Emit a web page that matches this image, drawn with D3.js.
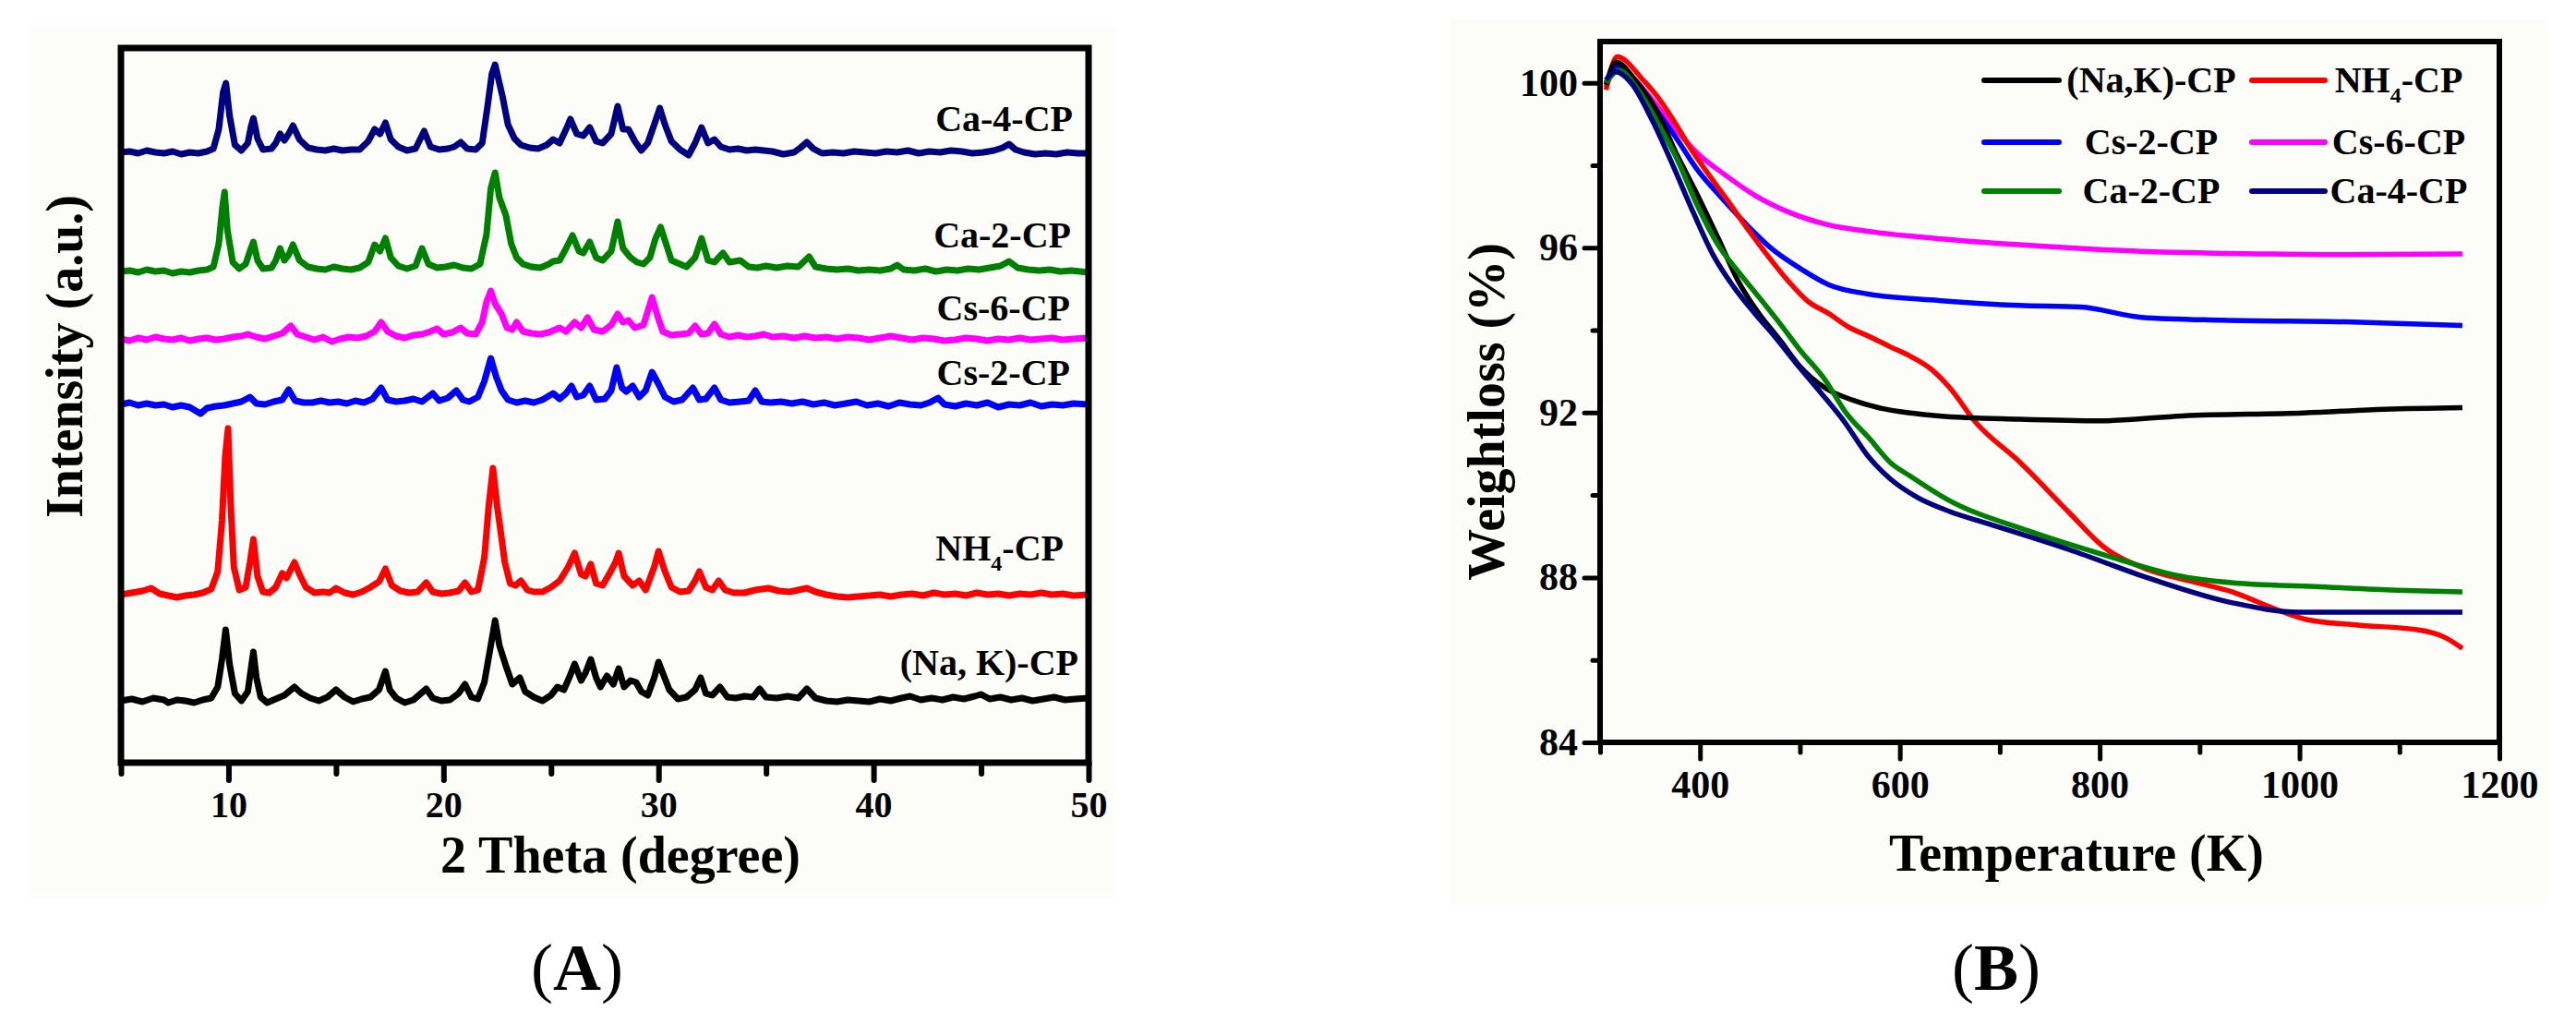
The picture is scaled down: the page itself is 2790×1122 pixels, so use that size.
<!DOCTYPE html>
<html>
<head>
<meta charset="utf-8">
<script src="https://cdn.jsdelivr.net/npm/d3@7"></script>
<style>
  body { margin: 0; background: #fff; }
  text { font-family: 'Liberation Serif', 'Times New Roman', serif; font-weight: bold; fill: #000; }
</style>
</head>
<body>
<svg id="chart"></svg>
<script>
// ---------- data: (A) XRD patterns, [2theta, intensity a.u. above own baseline] ----------
const xrdNames = ['(Na, K)-CP', 'NH4-CP', 'Cs-2-CP', 'Cs-6-CP', 'Ca-2-CP', 'Ca-4-CP']
const xrdOffsets = [67, 182, 388, 459, 532, 661]

const xrdNaK = [[5,0],[5.5,2],[6,-1],[6.5,3],[7,1],[7.2,-2],[7.6,1],[8,0],[8.4,-2],[8.8,1],[9.2,3],[9.5,15],[9.7,45],[9.87,77],[10.05,40],[10.3,8],[10.6,0],[10.9,10],[11.05,35],[11.16,53],[11.3,25],[11.5,4],[11.8,-2],[12.2,2],[12.6,6],[13.07,15],[13.4,8],[13.8,3],[14.2,0],[14.6,4],[15,12],[15.4,4],[15.8,-1],[16.2,2],[16.6,4],[17,12],[17.3,32],[17.5,12],[17.8,3],[18.2,-2],[18.6,1],[19.2,13],[19.5,3],[19.9,0],[20.3,1],[20.7,8],[21,18],[21.3,4],[21.6,2],[21.9,20],[22.2,60],[22.4,87],[22.6,60],[22.9,38],[23.2,18],[23.55,25],[23.8,10],[24.2,4],[24.6,0],[25,6],[25.3,15],[25.6,12],[25.9,28],[26.1,40],[26.4,22],[26.6,30],[26.85,45],[27.1,25],[27.3,15],[27.6,27],[27.9,18],[28.15,35],[28.4,15],[28.7,22],[28.96,20],[29.2,10],[29.5,6],[29.8,25],[30,42],[30.2,30],[30.5,12],[30.9,2],[31.3,4],[31.7,12],[31.96,25],[32.2,8],[32.5,6],[32.86,15],[33.2,4],[33.6,3],[34,5],[34.4,4],[34.7,13],[35,4],[35.5,3],[36,5],[36.5,3],[36.9,13],[37.3,3],[37.8,0],[38.3,-1],[38.8,1],[39.3,0],[39.8,-1],[40.3,2],[40.8,0],[41.3,3],[41.7,5],[42.2,1],[42.7,3],[43.2,1],[43.7,4],[44.2,2],[44.7,5],[45,7],[45.4,2],[45.9,4],[46.4,1],[46.9,3],[47.4,0],[47.9,2],[48.4,4],[48.9,1],[49.4,2],[50,3]]

const xrdNH4 = [[5,0],[5.5,2],[6,4],[6.4,7],[6.8,1],[7.2,-1],[7.6,-3],[8,-1],[8.4,0],[8.8,2],[9.2,6],[9.5,25],[9.7,80],[9.85,150],[9.98,180],[10.1,100],[10.25,30],[10.5,5],[10.8,8],[11,35],[11.16,60],[11.35,20],[11.6,3],[11.9,2],[12.2,8],[12.5,23],[12.7,18],[13.07,35],[13.3,22],[13.6,8],[14,2],[14.4,3],[14.7,2],[15,7],[15.4,2],[15.8,0],[16.2,3],[16.6,8],[17,14],[17.3,28],[17.6,10],[18,4],[18.4,2],[18.8,3],[19.2,13],[19.5,3],[19.9,1],[20.3,2],[20.7,4],[21,13],[21.3,3],[21.6,5],[21.9,40],[22.1,95],[22.3,137],[22.5,95],[22.65,70],[22.85,35],[23.1,12],[23.35,10],[23.6,15],[23.9,5],[24.2,3],[24.6,3],[25,8],[25.4,15],[25.8,30],[26.1,45],[26.4,22],[26.6,20],[26.85,33],[27.1,12],[27.4,10],[27.7,22],[28,35],[28.15,45],[28.4,20],[28.8,10],[29.1,15],[29.4,5],[29.8,30],[30,47],[30.3,25],[30.6,8],[31,3],[31.4,4],[31.7,15],[31.9,25],[32.2,8],[32.5,5],[32.8,15],[33.1,5],[33.5,2],[34,2],[34.5,5],[35.1,7],[35.6,4],[36.1,3],[36.5,5],[36.9,7],[37.3,3],[37.8,0],[38.3,-2],[38.8,-3],[39.3,-2],[39.8,-1],[40.3,0],[40.8,-2],[41.3,0],[41.8,1],[42.3,-1],[42.8,2],[43.3,0],[43.8,1],[44.3,-1],[44.8,2],[45.3,0],[45.8,1],[46.3,-1],[46.8,1],[47.3,0],[47.8,2],[48.3,0],[48.8,1],[49.3,-1],[50,0]]

const xrdCs2 = [[5,0],[5.4,2],[5.8,-1],[6.2,1],[6.6,-1],[7,0],[7.4,-3],[7.8,-1],[8.2,-3],[8.7,-10],[9,-4],[9.4,-2],[9.8,-1],[10.2,1],[10.6,3],[11,8],[11.3,1],[11.7,0],[12.1,3],[12.5,5],[12.8,16],[13.1,4],[13.5,2],[13.9,2],[14.3,4],[14.7,2],[15.1,3],[15.5,1],[15.9,4],[16.3,2],[16.7,6],[17.1,18],[17.4,5],[17.8,3],[18.2,4],[18.6,6],[19,3],[19.5,12],[19.8,4],[20.2,7],[20.6,15],[20.9,5],[21.2,3],[21.6,8],[21.9,25],[22.2,50],[22.45,30],[22.7,15],[23,5],[23.4,2],[23.8,4],[24.2,2],[24.6,5],[25.1,12],[25.4,6],[25.7,12],[25.95,20],[26.2,8],[26.5,10],[26.8,20],[27.1,5],[27.5,6],[27.8,15],[28.05,40],[28.3,18],[28.5,14],[28.8,20],[29.1,8],[29.4,15],[29.7,35],[30,22],[30.3,8],[30.7,3],[31.1,5],[31.6,18],[31.9,5],[32.2,6],[32.6,18],[32.9,5],[33.3,2],[33.8,3],[34.2,4],[34.5,15],[34.8,3],[35.2,2],[35.7,3],[36.2,1],[36.7,3],[37.2,0],[37.7,2],[38.2,-1],[38.7,1],[39.2,3],[39.7,-1],[40.2,1],[40.7,-2],[41.2,2],[41.7,0],[42.2,-1],[42.6,2],[43,7],[43.3,0],[43.8,-2],[44.3,1],[44.8,-1],[45.3,2],[45.8,-3],[46.3,0],[46.8,-1],[47.3,2],[47.8,-2],[48.3,0],[48.8,-1],[49.3,1],[50,0]]

const xrdCs6 = [[5,0],[5.4,-2],[5.8,1],[6.2,-1],[6.6,2],[7,0],[7.4,-1],[7.8,1],[8.2,-2],[8.6,0],[9,1],[9.4,-1],[9.8,0],[10.2,2],[10.6,3],[10.9,5],[11.3,2],[11.7,0],[12.1,3],[12.5,6],[12.9,14],[13.2,5],[13.6,2],[14,-1],[14.4,2],[14.8,-3],[15.2,0],[15.6,2],[16,1],[16.4,3],[16.8,8],[17.1,18],[17.4,8],[17.8,3],[18.2,1],[18.6,4],[19,5],[19.4,8],[19.7,11],[20,5],[20.4,7],[20.8,12],[21.1,6],[21.5,5],[21.8,18],[22,40],[22.2,52],[22.4,38],[22.7,27],[22.95,12],[23.2,10],[23.4,18],[23.7,8],[24.1,6],[24.5,5],[24.9,7],[25.4,12],[25.7,8],[26.1,18],[26.4,12],[26.7,23],[27,10],[27.4,8],[27.8,15],[28.1,27],[28.35,18],[28.6,20],[28.9,12],[29.3,15],[29.5,30],[29.7,45],[29.95,25],[30.2,8],[30.6,4],[31,5],[31.4,6],[31.7,14],[32,5],[32.3,6],[32.6,16],[32.9,5],[33.3,2],[33.7,4],[34.1,2],[34.5,3],[34.9,5],[35.3,2],[35.8,3],[36.3,1],[36.8,3],[37.3,1],[37.8,2],[38.3,0],[38.8,2],[39.3,1],[39.8,-1],[40.3,1],[40.8,3],[41.3,1],[41.8,-1],[42.3,1],[42.8,0],[43.3,-2],[43.8,-1],[44.3,1],[44.8,0],[45.3,-2],[45.8,0],[46.3,-1],[46.8,1],[47.3,-1],[47.8,0],[48.3,1],[48.8,-1],[49.3,0],[50,1]]

const xrdCa2 = [[5,0],[5.4,1],[5.8,-1],[6.2,2],[6.6,0],[7,1],[7.4,-2],[7.8,0],[8.2,-1],[8.6,1],[9,2],[9.3,5],[9.55,30],[9.72,70],[9.82,86],[9.95,45],[10.2,10],[10.5,3],[10.8,8],[11,22],[11.16,32],[11.35,12],[11.6,3],[12,4],[12.2,12],[12.4,25],[12.6,12],[12.8,18],[13,29],[13.3,12],[13.7,5],[14.1,3],[14.5,2],[14.9,5],[15.3,3],[15.7,2],[16.1,4],[16.5,10],[16.8,29],[17.05,22],[17.3,36],[17.55,15],[17.9,6],[18.3,3],[18.7,6],[19,25],[19.3,8],[19.7,4],[20.1,5],[20.5,7],[20.9,4],[21.3,3],[21.7,8],[22,40],[22.2,90],[22.4,107],[22.6,80],[22.9,61],[23.15,30],[23.4,15],[23.7,8],[24.1,5],[24.5,4],[24.9,8],[25.1,11],[25.4,12],[25.7,25],[26,39],[26.3,22],[26.5,20],[26.8,32],[27.1,15],[27.4,12],[27.8,22],[28.1,54],[28.35,25],[28.7,15],[29,10],[29.3,8],[29.6,15],[29.85,35],[30.1,48],[30.35,30],[30.6,12],[31,8],[31.3,5],[31.7,15],[32,36],[32.3,12],[32.6,10],[33,20],[33.3,10],[33.8,12],[34.2,5],[34.6,4],[35,6],[35.5,4],[36,6],[36.5,5],[37,16],[37.3,5],[37.8,3],[38.3,2],[38.8,3],[39.3,1],[39.8,2],[40.3,1],[40.8,3],[41.1,7],[41.4,2],[41.9,1],[42.4,3],[42.9,0],[43.4,2],[43.9,1],[44.4,3],[44.9,2],[45.4,4],[45.9,6],[46.3,11],[46.7,4],[47.2,2],[47.7,1],[48.2,2],[48.7,0],[49.2,1],[50,-1]]

const xrdCa4 = [[5,0],[5.4,1],[5.8,-1],[6.2,2],[6.6,0],[7,-1],[7.4,1],[7.8,-2],[8.2,0],[8.6,-1],[9,1],[9.3,4],[9.55,25],[9.75,65],[9.88,75],[10.05,40],[10.3,8],[10.6,2],[10.9,10],[11.05,28],[11.16,37],[11.35,15],[11.6,3],[12,4],[12.2,10],[12.4,20],[12.6,13],[12.8,20],[13,29],[13.3,14],[13.7,5],[14.1,3],[14.5,2],[14.9,4],[15.3,2],[15.7,3],[16.1,3],[16.5,12],[16.8,25],[17.05,20],[17.3,32],[17.55,14],[17.9,6],[18.3,2],[18.7,4],[19.1,23],[19.4,6],[19.8,3],[20.2,4],[20.5,6],[20.8,11],[21.1,4],[21.5,3],[21.8,10],[22.05,50],[22.25,85],[22.4,95],[22.55,80],[22.75,60],[23,30],[23.3,15],[23.6,8],[24,5],[24.4,4],[24.8,8],[25.1,14],[25.4,10],[25.7,25],[25.9,36],[26.2,20],[26.5,18],[26.8,27],[27.1,12],[27.4,10],[27.8,20],[28.1,50],[28.35,25],[28.6,25],[28.9,12],[29.2,2],[29.5,10],[29.8,30],[30.06,48],[30.3,30],[30.6,12],[31,3],[31.4,-3],[31.7,10],[32,27],[32.3,10],[32.6,14],[32.9,6],[33.3,3],[33.7,4],[34.1,2],[34.5,3],[34.9,2],[35.3,1],[35.8,-2],[36.3,0],[36.6,5],[36.9,11],[37.2,4],[37.6,-1],[38.1,0],[38.6,-1],[39.1,1],[39.6,0],[40.1,-1],[40.6,1],[41.1,0],[41.6,2],[42.1,-1],[42.6,1],[43.1,0],[43.6,2],[44.1,1],[44.6,-1],[45.1,0],[45.6,2],[46,5],[46.3,9],[46.6,3],[47,0],[47.5,-2],[48,-1],[48.5,-2],[49,0],[49.5,-1],[50,-1]]

const xrdTickLabels = [10, 20, 30, 40, 50]
const xrdMinorTicks = [5, 15, 25, 35, 45]

// ---------- data: (B) TGA curves, [temperature K, weight %] ----------
const tgaNames = ['(Na,K)-CP', 'NH4-CP', 'Cs-2-CP', 'Cs-6-CP', 'Ca-2-CP', 'Ca-4-CP']

const tgaNaK = [[306,99.95],[316,100.5],[335,100.07],[356,99.35],[376,98.3],[397,97.3],[418,96.24],[438,95.2],[459,94.4],[480,93.76],[500,93.12],[525,92.6],[553,92.3],[582,92.1],[611,91.99],[639,91.92],[720,91.84],[801,91.8],[883,91.92],[1004,91.99],[1085,92.08],[1163,92.12]]
const tgaNH4 = [[306,99.83],[317,100.63],[343,100.07],[356,99.71],[373,99.11],[389,98.47],[405,97.9],[426,97.2],[447,96.48],[467,95.83],[488,95.2],[508,94.7],[529,94.4],[549,94.07],[570,93.84],[590,93.6],[611,93.36],[632,93.04],[650,92.6],[676,91.76],[720,90.8],[770,89.56],[803,88.76],[844,88.23],[893,87.9],[933,87.65],[975,87.24],[1007,86.98],[1056,86.85],[1121,86.72],[1146,86.54],[1163,86.28]]
const tgaCs2 = [[306,100],[317,100.39],[336,100],[356,99.35],[377,98.63],[397,97.9],[422,97.2],[447,96.55],[471,95.99],[500,95.5],[529,95.1],[570,94.87],[639,94.72],[720,94.6],[781,94.56],[842,94.31],[923,94.24],[1045,94.2],[1163,94.11]]
const tgaCs6 = [[306,99.9],[315,100.3],[331,100.15],[352,99.6],[373,98.95],[397,98.3],[426,97.75],[455,97.27],[488,96.87],[529,96.55],[570,96.39],[639,96.22],[720,96.07],[842,95.91],[964,95.85],[1045,95.83],[1163,95.85]]
const tgaCa2 = [[306,100],[319,100.3],[336,99.9],[356,99.1],[377,98.15],[397,97.04],[418,96.07],[438,95.43],[459,94.8],[480,94.16],[500,93.52],[525,92.8],[546,92],[570,91.36],[590,90.8],[611,90.45],[647,89.9],[730,89.12],[811,88.5],[877,88.05],[934,87.87],[1015,87.78],[1097,87.69],[1163,87.65]]
const tgaCa4 = [[306,100.07],[315,100.27],[331,100],[352,99.1],[373,97.99],[393,96.87],[413,95.83],[434,95.04],[455,94.4],[475,93.84],[496,93.2],[521,92.48],[545,91.76],[568,90.95],[590,90.4],[617,89.95],[650,89.6],[689,89.3],[770,88.67],[852,87.96],[934,87.38],[999,87.16],[1056,87.16],[1163,87.16]]

const tgaXTicks = [400, 600, 800, 1000, 1200]
const tgaXMinor = [300, 500, 700, 900, 1100]
const tgaYTicks = [84, 88, 92, 96, 100]
const tgaYMinor = [86, 90, 94, 98]

// ---------- drawing ----------
const colors = ['#000000', '#ff0000', '#0000ff', '#ff00ff', '#008000', '#000080']
const width = 2790, height = 1122

const svg = d3.select('#chart')
  .attr('width', width)
  .attr('height', height)

svg.append('rect').attr('width', width).attr('height', height).attr('fill', '#fff')
// faint panel backgrounds as in the scanned figure
svg.append('rect').attr('x', 31).attr('y', 30).attr('width', 1177).attr('height', 944).attr('fill', '#fcfcf9')
svg.append('rect').attr('x', 1570).attr('y', 21).attr('width', 1188).attr('height', 959).attr('fill', '#fcfcf9')

// helper to draw a NH4 style label with subscript
function labelText(sel, name, size) {
  if (name.indexOf('NH4') === 0) {
    sel.append('tspan').text('NH')
    sel.append('tspan').text('4').attr('font-size', size * 0.6).attr('dy', size * 0.28)
    sel.append('tspan').text('-CP').attr('dy', -size * 0.28)
  } else {
    sel.text(name)
  }
}

function styleAxis(g, width) {
  g.select('.domain').remove()
  g.selectAll('.tick line').attr('stroke', '#000').attr('stroke-width', width).attr('stroke-linecap', 'round')
}

// ===== Panel A =====
const A = { left: 131, right: 1179, top: 52, bottom: 826 }
const xA = d3.scaleLinear().domain([5, 50]).range([A.left, A.right])
const yA = d3.scaleLinear().domain([0, 774]).range([A.bottom, A.top])

const xrdSeries = [xrdNaK, xrdNH4, xrdCs2, xrdCs6, xrdCa2, xrdCa4]
xrdSeries.forEach((s, i) => {
  const line = d3.line()
    .x(d => xA(d[0]))
    .y(d => yA(d[1] + xrdOffsets[i]))
  svg.append('path')
    .datum(s)
    .attr('d', line)
    .attr('fill', 'none')
    .attr('stroke', colors[i])
    .attr('stroke-width', 7)
    .attr('stroke-linejoin', 'round')
})

const gxA = svg.append('g')
  .attr('transform', `translate(0,${A.bottom})`)
  .call(d3.axisBottom(xA).tickValues(xrdTickLabels).tickSize(19).tickPadding(12).tickFormat(d3.format('d')))
styleAxis(gxA, 6)
gxA.selectAll('text').attr('font-size', 40)

const gxAm = svg.append('g')
  .attr('transform', `translate(0,${A.bottom})`)
  .call(d3.axisBottom(xA).tickValues(xrdMinorTicks).tickSize(12).tickFormat(''))
styleAxis(gxAm, 6)

svg.append('rect')
  .attr('x', A.left).attr('y', A.top)
  .attr('width', A.right - A.left).attr('height', A.bottom - A.top)
  .attr('fill', 'none').attr('stroke', '#000').attr('stroke-width', 7)

// sample labels in panel A
const xrdLabelPos = [[1168, 731], [1152, 607], [1159, 417], [1159, 347], [1160, 268], [1162, 142]]
xrdNames.forEach((n, i) => {
  const t = svg.append('text')
    .attr('x', xrdLabelPos[i][0]).attr('y', xrdLabelPos[i][1])
    .attr('text-anchor', 'end').attr('font-size', 40)
  labelText(t, n, 40)
})

svg.append('text')
  .attr('x', 672).attr('y', 945)
  .attr('text-anchor', 'middle').attr('font-size', 56)
  .text('2 Theta (degree)')

svg.append('text')
  .attr('transform', 'translate(89,386) rotate(-90)')
  .attr('text-anchor', 'middle').attr('font-size', 56)
  .text('Intensity (a.u.)')

const capA = svg.append('text').attr('x', 625).attr('y', 1072).attr('text-anchor', 'middle').attr('font-size', 72)
capA.append('tspan').text('(').attr('font-weight', 'normal')
capA.append('tspan').text('A')
capA.append('tspan').text(')').attr('font-weight', 'normal')

// ===== Panel B =====
const B = { left: 1733, right: 2707, top: 45, bottom: 804 }
const xB = d3.scaleLinear().domain([300, 1200]).range([B.left, B.right])
const yB = d3.scaleLinear().domain([84, 101]).range([B.bottom, B.top])

const tgaSeries = [tgaNaK, tgaNH4, tgaCs2, tgaCs6, tgaCa2, tgaCa4]
const tgaLine = d3.line()
  .x(d => xB(d[0]))
  .y(d => yB(d[1]))
  .curve(d3.curveMonotoneX)
// draw in an order that keeps the dark curves on top like the original
const drawOrder = [3, 2, 1, 0, 4, 5]
drawOrder.forEach(i => {
  svg.append('path')
    .datum(tgaSeries[i])
    .attr('d', tgaLine)
    .attr('fill', 'none')
    .attr('stroke', colors[i])
    .attr('stroke-width', 5.5)
    .attr('stroke-linejoin', 'round')
})

const gxB = svg.append('g')
  .attr('transform', `translate(0,${B.bottom})`)
  .call(d3.axisBottom(xB).tickValues(tgaXTicks).tickSize(18).tickPadding(12).tickFormat(d3.format('d')))
styleAxis(gxB, 5)
gxB.selectAll('text').attr('font-size', 42)

const gxBm = svg.append('g')
  .attr('transform', `translate(0,${B.bottom})`)
  .call(d3.axisBottom(xB).tickValues(tgaXMinor).tickSize(11).tickFormat(''))
styleAxis(gxBm, 5)

const gyB = svg.append('g')
  .attr('transform', `translate(${B.left},0)`)
  .call(d3.axisLeft(yB).tickValues(tgaYTicks).tickSize(17).tickPadding(7).tickFormat(d3.format('d')))
styleAxis(gyB, 5)
gyB.selectAll('text').attr('font-size', 42)

const gyBm = svg.append('g')
  .attr('transform', `translate(${B.left},0)`)
  .call(d3.axisLeft(yB).tickValues(tgaYMinor).tickSize(8).tickFormat(''))
styleAxis(gyBm, 5)

svg.append('rect')
  .attr('x', B.left).attr('y', B.top)
  .attr('width', B.right - B.left).attr('height', B.bottom - B.top)
  .attr('fill', 'none').attr('stroke', '#000').attr('stroke-width', 6)

// legend (two columns, three rows)
const legendRows = [87, 154, 207]
const legendCols = [{ x0: 2149, x1: 2230, tx: 2330 }, { x0: 2439, x1: 2518, tx: 2598 }]
tgaNames.forEach((n, i) => {
  const col = legendCols[i % 2], y = legendRows[Math.floor(i / 2)]
  svg.append('line')
    .attr('x1', col.x0).attr('x2', col.x1).attr('y1', y).attr('y2', y)
    .attr('stroke', colors[i]).attr('stroke-width', 6).attr('stroke-linecap', 'round')
  const t = svg.append('text')
    .attr('x', col.tx).attr('y', y + 13)
    .attr('text-anchor', 'middle').attr('font-size', 40)
  labelText(t, n, 40)
})

svg.append('text')
  .attr('x', 2249).attr('y', 943)
  .attr('text-anchor', 'middle').attr('font-size', 56)
  .text('Temperature (K)')

svg.append('text')
  .attr('transform', 'translate(1629,446) rotate(-90)')
  .attr('text-anchor', 'middle').attr('font-size', 56)
  .text('Weightloss (%)')

const capB = svg.append('text').attr('x', 2162).attr('y', 1072).attr('text-anchor', 'middle').attr('font-size', 72)
capB.append('tspan').text('(').attr('font-weight', 'normal')
capB.append('tspan').text('B')
capB.append('tspan').text(')').attr('font-weight', 'normal')
</script>
</body>
</html>
